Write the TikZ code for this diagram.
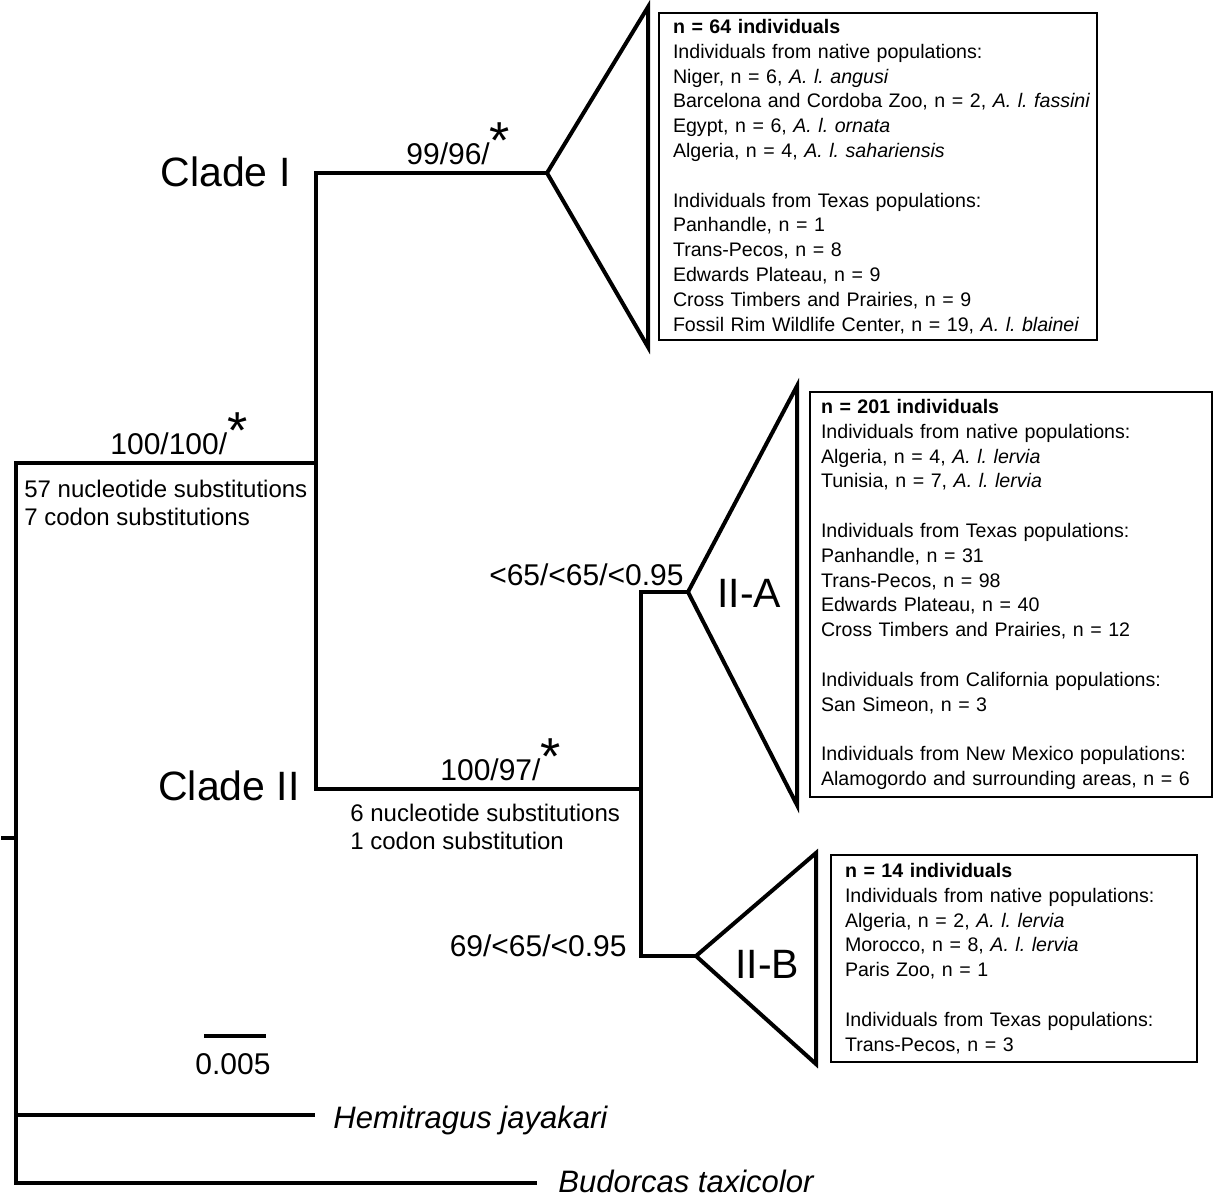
\documentclass[tikz,border=0pt]{standalone}
\usepackage{fontspec}
\setmainfont{Liberation Sans}
\usetikzlibrary{positioning}

\frenchspacing
\newcommand{\astmark}{\raisebox{3pt}{\fontsize{26pt}{26pt}\selectfont *}}

\tikzset{
	branch/.style={line width=2.2pt, line join=miter, line cap=rect},
	clade/.style={line width=2pt, line join=miter},
	infobox/.style={draw, line width=1pt, align=left, inner xsep=7pt, inner ysep=2pt, font=\fontsize{9.8pt}{12.4pt}\selectfont},
	support/.style={inner sep=0pt, font=\fontsize{15pt}{18pt}\selectfont},
	biglabel/.style={inner sep=0pt, font=\fontsize{20.5pt}{24pt}\selectfont},
	subst/.style={inner sep=0pt, align=left, font=\fontsize{12pt}{14pt}\selectfont},
	taxon/.style={inner sep=0pt, font=\fontsize{15.5pt}{18pt}\selectfont\itshape}
}

\begin{document}
\begin{tikzpicture}[x=0.5pt, y=-0.5pt]
			\useasboundingbox (0,0) rectangle (1225,1197);
			
			\coordinate (stem) at (3,838);
			\coordinate (root) at (16,838);
			\coordinate (ingroup) at (16,463);
			\coordinate (outA) at (16,1115);
			\coordinate (outB) at (16,1183);
			\coordinate (aoudad) at (316,463);
			\coordinate (c1) at (316,173);
			\coordinate (c1tip) at (547,173);
			\coordinate (c2) at (316,789);
			\coordinate (c2node) at (641,789);
			\coordinate (c2a) at (641,592);
			\coordinate (c2atip) at (688,592);
			\coordinate (c2b) at (641,956);
			\coordinate (c2btip) at (696,956);
			\coordinate (hemi) at (313,1115);
			\coordinate (budo) at (535,1183);
			
			\draw [branch] (stem) -- (root);
			\draw [branch] (aoudad) -- (ingroup) -- (outB) -- (budo);
			\draw [branch] (outA) -- (hemi);
			\draw [branch] (c1tip) -- (c1) -- (c2) -- (c2node);
			\draw [branch] (c2atip) -- (c2a) -- (c2b) -- (c2btip);
			
			\draw [clade] (c1tip) -- (648,7) -- (648,347) -- cycle;
			\draw [clade] (c2atip) -- (797,386) -- (797,805) -- cycle;
			\draw [clade] (c2btip) -- (816,853) -- (816,1064) -- cycle;
			
			\node [biglabel, anchor=base east] (cladeI) at (291,187) {Clade I};
			\node [biglabel, anchor=base east] (cladeII) at (300,800) {Clade II};
			\node [biglabel, anchor=base west] (IIA) at (717,607) {II-A};
			\node [biglabel, anchor=base west] (IIB) at (735,978) {II-B};
			
			\node [support, anchor=base west] (s1) at (406,165) {99/96/\astmark};
			\node [support, anchor=base west] (s0) at (110,455) {100/100/\astmark};
			\node [support, anchor=base west] (s2) at (440,780) {100/97/\astmark};
			\node [support, anchor=base east] (s2a) at (684,585) {<65/<65/<0.95};
			\node [support, anchor=base east] (s2b) at (627,956) {69/<65/<0.95};
			
			\node [subst, anchor=north west] (sub0) at (24,480) {57 nucleotide substitutions\\7 codon substitutions};
			\node [subst, anchor=north west] (sub2) at (350,804) {6 nucleotide substitutions\\1 codon substitution};
			
			\node [infobox, text width=205pt, minimum height=163.5pt] (boxI) at (878,176.5) {\textbf{n = 64 individuals}\\
				Individuals from native populations:\\
				Niger, n = 6, \textit{A. l. angusi}\\
				\mbox{Barcelona and Cordoba Zoo, n = 2, \textit{A. l. fassini}}\\
				Egypt, n = 6, \textit{A. l. ornata}\\
				Algeria, n = 4, \textit{A. l. sahariensis}\\[12.4pt]
				Individuals from Texas populations:\\
				Panhandle, n = 1\\
				Trans-Pecos, n = 8\\
				Edwards Plateau, n = 9\\
				Cross Timbers and Prairies, n = 9\\
				\mbox{Fossil Rim Wildlife Center, n = 19, \textit{A. l. blainei}}};
			
			\node [infobox, inner xsep=5.5pt, text width=190pt, minimum height=202.5pt] (boxIIA) at (1011,594.5) {\textbf{n = 201 individuals}\\
				Individuals from native populations:\\
				Algeria, n = 4, \textit{A. l. lervia}\\
				Tunisia, n = 7, \textit{A. l. lervia}\\[12.4pt]
				Individuals from Texas populations:\\
				Panhandle, n = 31\\
				Trans-Pecos, n = 98\\
				Edwards Plateau, n = 40\\
				Cross Timbers and Prairies, n = 12\\[12.4pt]
				Individuals from California populations:\\
				San Simeon, n = 3\\[12.4pt]
				Individuals from New Mexico populations:\\
				\mbox{Alamogordo and surrounding areas, n = 6}};
			
			\node [infobox, text width=169pt, minimum height=103.5pt] (boxIIB) at (1014,958.5) {\textbf{n = 14 individuals}\\
				Individuals from native populations:\\
				Algeria, n = 2, \textit{A. l. lervia}\\
				Morocco, n = 8, \textit{A. l. lervia}\\
				Paris Zoo, n = 1\\[12.4pt]
				Individuals from Texas populations:\\
				Trans-Pecos, n = 3};
			
			\coordinate (barL) at (204,1036);
			\coordinate (barR) at (266,1036);
			\draw [line width=2pt] (barL) -- (barR);
			\node [support, anchor=base] (scale) at (233,1074) {0.005};
			
			\node [taxon, anchor=base west] (heminame) at (333,1128) {Hemitragus jayakari};
			\node [taxon, anchor=base west] (budoname) at (558,1192) {Budorcas taxicolor};
		\end{tikzpicture}
\end{document}
